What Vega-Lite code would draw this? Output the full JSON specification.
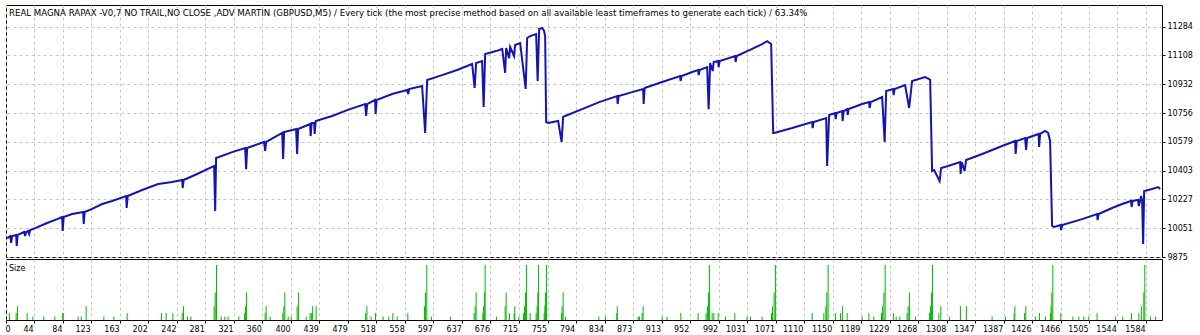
{
  "$schema": "https://vega.github.io/schema/vega-lite/v6.json",
  "background": "white",
  "padding": {"left": 4, "top": 4, "right": 0, "bottom": 0},
  "autosize": {"type": "pad"},
  "spacing": 2,
  "bounds": "flush",
  "config": {
    "font": "DejaVu Sans",
    "view": {"stroke": "#000000", "strokeWidth": 1},
    "axis": {"labelFont": "DejaVu Sans", "labelFontSize": 8, "labelColor": "#000000", "gridColor": "#c8c8c8", "gridDash": [3, 3], "gridWidth": 1, "domain": false, "tickColor": "#000000", "tickSize": 3, "labelFlush": false, "labelOverlap": false, "labelBound": false, "title": null},
    "title": {"font": "DejaVu Sans", "fontSize": 8, "fontWeight": "normal", "color": "#000000", "anchor": "start", "frame": "group"}
  },
  "datasets": {
    "eq": [
      {"t":6.6,"v":9991},{"t":10.8,"v":10003},{"t":12.1,"v":9961},{"t":13.5,"v":10003},{"t":19.1,"v":10010},{"t":19.8,"v":9942},{"t":21.1,"v":10010},{"t":30.1,"v":10028},{"t":31.5,"v":10003},{"t":32.9,"v":10028},{"t":35.7,"v":10034},{"t":37.1,"v":10016},{"t":38.5,"v":10040},{"t":45.4,"v":10052},{"t":62.0,"v":10083},{"t":75.8,"v":10107},{"t":82.8,"v":10120},{"t":83.5,"v":10034},{"t":84.9,"v":10120},{"t":96.6,"v":10138},{"t":111.9,"v":10150},{"t":112.6,"v":10077},{"t":113.9,"v":10150},{"t":124.3,"v":10169},{"t":138.2,"v":10199},{"t":152.0,"v":10218},{"t":171.4,"v":10248},{"t":172.1,"v":10175},{"t":173.5,"v":10248},{"t":193.6,"v":10285},{"t":215.7,"v":10322},{"t":235.1,"v":10334},{"t":249.0,"v":10346},{"t":249.7,"v":10297},{"t":251.0,"v":10346},{"t":269.7,"v":10383},{"t":290.5,"v":10426},{"t":293.3,"v":10432},{"t":294.7,"v":10156},{"t":296.0,"v":10481},
      {"t":318.2,"v":10517},{"t":336.2,"v":10542},{"t":337.6,"v":10413},{"t":339.0,"v":10542},{"t":362.5,"v":10579},{"t":363.9,"v":10524},{"t":365.3,"v":10579},{"t":387.5,"v":10634},{"t":388.8,"v":10475},{"t":390.2,"v":10640},{"t":406.8,"v":10658},{"t":408.2,"v":10505},{"t":409.6,"v":10658},{"t":426.2,"v":10689},{"t":426.9,"v":10615},{"t":428.3,"v":10695},{"t":431.8,"v":10695},{"t":432.5,"v":10628},{"t":433.9,"v":10707},{"t":456.7,"v":10738},{"t":477.5,"v":10774},{"t":502.4,"v":10811},{"t":503.8,"v":10738},{"t":505.2,"v":10811},{"t":516.2,"v":10836},{"t":516.9,"v":10750},{"t":518.3,"v":10836},{"t":539.8,"v":10872},{"t":560.6,"v":10897},{"t":562.0,"v":10872},{"t":563.3,"v":10903},{"t":581.3,"v":10921},{"t":585.5,"v":10634},{"t":588.3,"v":10958},{"t":609.0,"v":10988},{"t":629.8,"v":11019},{"t":650.6,"v":11056},{"t":654.0,"v":10909},{"t":656.1,"v":11062},{"t":664.4,"v":11074},{"t":666.5,"v":10793},{"t":668.6,"v":11117},{"t":683.8,"v":11135},{"t":692.2,"v":11148},{"t":696.3,"v":11001},{"t":697.7,"v":11154},{"t":701.8,"v":11092},{"t":703.2,"v":11160},{"t":708.7,"v":11105},{"t":710.1,"v":11172},{"t":717.1,"v":11184},{"t":724.7,"v":10903},{"t":726.8,"v":11215},{"t":730.9,"v":11227},{"t":739.2,"v":11239},{"t":741.3,"v":10952},{"t":743.4,"v":11270},{"t":747.5,"v":11276},{"t":750.3,"v":11258},{"t":751.7,"v":11221},{"t":753.1,"v":10701},
      {"t":755.8,"v":10695},{"t":769.7,"v":10707},{"t":774.5,"v":10579},{"t":776.6,"v":10732},{"t":779.4,"v":10738},{"t":802.9,"v":10780},{"t":826.5,"v":10823},{"t":851.4,"v":10860},{"t":852.1,"v":10811},{"t":853.5,"v":10860},{"t":872.2,"v":10884},{"t":887.4,"v":10903},{"t":888.1,"v":10811},{"t":889.5,"v":10909},{"t":913.7,"v":10946},{"t":938.6,"v":10982},{"t":939.3,"v":10952},{"t":940.7,"v":10982},{"t":955.3,"v":11007},{"t":963.6,"v":11019},{"t":964.3,"v":10988},{"t":965.7,"v":11019},{"t":976.1,"v":11037},{"t":978.1,"v":10780},{"t":980.2,"v":11062},{"t":983.7,"v":11013},{"t":985.1,"v":11068},{"t":991.3,"v":11074},{"t":992.0,"v":11037},{"t":993.4,"v":11074},{"t":1014.8,"v":11105},{"t":1015.5,"v":11068},{"t":1016.9,"v":11105},{"t":1038.4,"v":11148},{"t":1052.2,"v":11178},{"t":1059.1,"v":11196},{"t":1064.7,"v":11178},{"t":1067.5,"v":10634},
      {"t":1068.8,"v":10634},{"t":1093.8,"v":10664},{"t":1121.5,"v":10701},{"t":1122.1,"v":10664},{"t":1123.5,"v":10701},{"t":1140.9,"v":10725},{"t":1142.2,"v":10432},{"t":1145.0,"v":10744},{"t":1153.3,"v":10756},{"t":1154.0,"v":10719},{"t":1155.4,"v":10756},{"t":1163.0,"v":10768},{"t":1163.7,"v":10707},{"t":1165.1,"v":10768},{"t":1170.0,"v":10780},{"t":1170.6,"v":10744},{"t":1172.0,"v":10780},{"t":1190.7,"v":10811},{"t":1200.4,"v":10823},{"t":1201.1,"v":10787},{"t":1202.5,"v":10823},{"t":1218.4,"v":10854},{"t":1221.9,"v":10579},{"t":1224.0,"v":10891},{"t":1233.6,"v":10903},{"t":1234.3,"v":10866},{"t":1235.7,"v":10903},{"t":1250.2,"v":10927},{"t":1255.8,"v":10787},{"t":1259.9,"v":10952},{"t":1278.0,"v":10976},{"t":1283.5,"v":10964},{"t":1284.9,"v":10958},{"t":1287.6,"v":10401},
      {"t":1290.4,"v":10407},{"t":1298.0,"v":10340},{"t":1300.1,"v":10420},{"t":1309.8,"v":10432},{"t":1326.4,"v":10456},{"t":1327.1,"v":10383},{"t":1328.5,"v":10456},{"t":1332.6,"v":10401},{"t":1334.7,"v":10468},{"t":1356.9,"v":10505},{"t":1384.6,"v":10554},{"t":1402.6,"v":10585},{"t":1403.3,"v":10505},{"t":1404.7,"v":10585},{"t":1416.4,"v":10603},{"t":1417.8,"v":10530},{"t":1419.2,"v":10603},{"t":1435.1,"v":10628},{"t":1435.8,"v":10548},{"t":1437.2,"v":10628},{"t":1444.1,"v":10646},{"t":1448.3,"v":10634},{"t":1451.0,"v":10585},{"t":1453.8,"v":10065},
      {"t":1456.6,"v":10059},{"t":1465.6,"v":10071},{"t":1466.3,"v":10040},{"t":1467.7,"v":10071},{"t":1495.4,"v":10107},{"t":1516.1,"v":10138},{"t":1516.8,"v":10101},{"t":1518.2,"v":10138},{"t":1536.9,"v":10175},{"t":1550.8,"v":10199},{"t":1563.2,"v":10218},{"t":1563.9,"v":10181},{"t":1565.3,"v":10218},{"t":1572.9,"v":10224},{"t":1573.9,"v":10187},{"t":1577.1,"v":10248},{"t":1578.5,"v":10218},{"t":1579.9,"v":9955},{"t":1581.3,"v":10279},{"t":1592.3,"v":10291},{"t":1600.6,"v":10303},{"t":1603.4,"v":10291}
    ],
    "sz": [
      {"t":9.8,"s":1},{"t":19.1,"s":1},{"t":20.9,"s":2},{"t":34.3,"s":1},{"t":42.2,"s":0.5},{"t":57.4,"s":0.5},{"t":72.7,"s":0.5},{"t":83.5,"s":1},{"t":84.2,"s":1},{"t":104.9,"s":0.5},{"t":109.1,"s":0.5},{"t":116.0,"s":2},{"t":140.5,"s":0.5},{"t":154.4,"s":0.5},{"t":172.8,"s":1},{"t":220.3,"s":1},{"t":226.8,"s":1},{"t":236.1,"s":1},{"t":249.0,"s":1},{"t":250.8,"s":2},{"t":256.3,"s":0.5},{"t":261.0,"s":0.5},{"t":293.3,"s":2},{"t":294.7,"s":4},{"t":296.5,"s":8},{"t":303.0,"s":0.5},{"t":308.1,"s":0.5},{"t":312.7,"s":0.5},{"t":327.5,"s":0.5},{"t":335.5,"s":1},{"t":336.6,"s":2},{"t":338.0,"s":4},{"t":363.9,"s":1},{"t":365.3,"s":2},{"t":370.8,"s":0.5},{"t":388.4,"s":1},{"t":389.8,"s":2},{"t":391.2,"s":4},{"t":395.8,"s":0.5},{"t":400.0,"s":0.5},{"t":408.2,"s":2},{"t":410.0,"s":4},{"t":420.7,"s":0.5},{"t":426.2,"s":1},{"t":428.3,"s":1},{"t":429.7,"s":2},{"t":434.5,"s":2},{"t":503.1,"s":1},{"t":504.8,"s":2},{"t":510.7,"s":0.5},{"t":516.7,"s":1},{"t":527.3,"s":0.5},{"t":535.2,"s":0.5},{"t":540.8,"s":1},{"t":546.7,"s":0.5},
      {"t":561.5,"s":1},{"t":584.5,"s":2},{"t":585.9,"s":4},{"t":587.8,"s":8},{"t":594.2,"s":0.5},{"t":620.5,"s":0.5},{"t":653.3,"s":1},{"t":654.7,"s":2},{"t":656.1,"s":4},{"t":665.4,"s":1},{"t":666.5,"s":2},{"t":667.5,"s":4},{"t":668.6,"s":8},{"t":684.2,"s":0.5},{"t":696.3,"s":2},{"t":697.7,"s":4},{"t":702.3,"s":1},{"t":708.8,"s":1},{"t":709.7,"s":2},{"t":715.3,"s":0.5},{"t":721.6,"s":1},{"t":723.0,"s":2},{"t":724.4,"s":4},{"t":725.8,"s":8},{"t":730.9,"s":1},{"t":739.2,"s":1},{"t":740.6,"s":2},{"t":741.6,"s":4},{"t":742.4,"s":8},{"t":750.3,"s":1},{"t":751.3,"s":2},{"t":752.1,"s":4},{"t":753.5,"s":8},{"t":774.3,"s":1},{"t":775.2,"s":2},{"t":776.6,"s":4},{"t":779.8,"s":0.5},{"t":826.1,"s":0.5},{"t":835.2,"s":0.5},{"t":850.9,"s":1},{"t":851.6,"s":2},{"t":880.5,"s":0.5},{"t":882.3,"s":0.5},{"t":886.0,"s":1},{"t":887.4,"s":2},{"t":913.7,"s":0.5},{"t":920.6,"s":0.5},{"t":939.6,"s":1},{"t":963.6,"s":1},{"t":974.6,"s":1},{"t":976.4,"s":2},{"t":977.8,"s":4},{"t":979.2,"s":8},{"t":983.0,"s":1},{"t":985.3,"s":1},{"t":991.3,"s":1},{"t":1001.4,"s":0.5},{"t":1014.4,"s":1},{"t":1031.4,"s":0.5},{"t":1036.0,"s":0.5},{"t":1052.2,"s":0.5},{"t":1065.1,"s":1},{"t":1066.5,"s":2},{"t":1068.8,"s":4},{"t":1070.6,"s":8},
      {"t":1121.5,"s":1},{"t":1137.7,"s":1},{"t":1140.4,"s":2},{"t":1141.8,"s":4},{"t":1143.6,"s":8},{"t":1153.7,"s":1},{"t":1160.7,"s":1},{"t":1163.4,"s":2},{"t":1169.9,"s":1},{"t":1190.7,"s":0.5},{"t":1200.0,"s":1},{"t":1206.9,"s":0.5},{"t":1217.5,"s":1},{"t":1218.8,"s":2},{"t":1220.8,"s":4},{"t":1222.6,"s":8},{"t":1234.0,"s":1},{"t":1237.8,"s":0.5},{"t":1242.9,"s":0.5},{"t":1253.0,"s":1},{"t":1254.4,"s":2},{"t":1256.2,"s":4},{"t":1264.5,"s":0.5},{"t":1283.9,"s":1},{"t":1285.3,"s":2},{"t":1286.7,"s":4},{"t":1288.1,"s":8},{"t":1296.9,"s":1},{"t":1299.7,"s":2},{"t":1311.6,"s":0.5},{"t":1326.8,"s":2},{"t":1335.1,"s":2},{"t":1370.7,"s":0.5},{"t":1389.2,"s":0.5},{"t":1401.2,"s":1},{"t":1402.2,"s":2},{"t":1415.5,"s":1},{"t":1417.4,"s":2},{"t":1430.7,"s":0.5},{"t":1436.3,"s":1},{"t":1444.6,"s":0.5},{"t":1451.5,"s":1},{"t":1452.4,"s":2},{"t":1453.4,"s":4},{"t":1454.8,"s":8},{"t":1465.9,"s":1},{"t":1482.5,"s":0.5},{"t":1490.8,"s":0.5},{"t":1497.7,"s":0.5},{"t":1504.6,"s":0.5},{"t":1516.1,"s":1},{"t":1541.5,"s":0.5},{"t":1551.7,"s":0.5},{"t":1563.6,"s":1},{"t":1573.9,"s":1},{"t":1577.5,"s":2},{"t":1580.8,"s":4},{"t":1582.2,"s":8},{"t":1590.0,"s":0.5},{"t":1596.9,"s":0.5}
    ]
  },
  "vconcat": [
    {
      "width": 1156,
      "height": 252,
      "title": {"text": "REAL MAGNA RAPAX -V0,7 NO TRAIL,NO CLOSE ,ADV MARTIN (GBPUSD,M5) / Every tick (the most precise method based on all available least timeframes to generate each tick) / 63.34%", "orient": "top", "offset": -20, "dx": 3, "baseline": "alphabetic", "fontSize": 8.6},
      "data": {"name": "eq"},
      "mark": {"type": "line", "color": "#1414B0", "strokeWidth": 2, "clip": true},
      "encoding": {
        "x": {"field": "t", "type": "quantitative", "scale": {"domain": [5, 1606], "nice": false, "zero": false},
          "axis": {"values": [5,44,84,123,163,202,242,281,321,360,400,439,479,518,558,597,637,676,715,755,794,834,873,913,952,992,1031,1071,1110,1150,1189,1229,1268,1308,1347,1387,1426,1466,1505,1544,1584], "labels": false, "ticks": false, "grid": true}},
        "y": {"field": "v", "type": "quantitative", "scale": {"domain": [9875, 11417], "nice": false, "zero": false},
          "axis": {"orient": "right", "values": [9875,10051,10227,10403,10579,10756,10932,11108,11284], "format": "d", "grid": true, "ticks": true, "labelPadding": 2}}
      }
    },
    {
      "width": 1156,
      "height": 61,
      "title": {"text": "Size", "orient": "top", "offset": -20, "dx": 3, "baseline": "alphabetic"},
      "data": {"name": "sz"},
      "mark": {"type": "rule", "color": "#00B800", "strokeWidth": 1, "clip": true},
      "encoding": {
        "x": {"field": "t", "type": "quantitative", "scale": {"domain": [5, 1606], "nice": false, "zero": false},
          "axis": {"values": [5,44,84,123,163,202,242,281,321,360,400,439,479,518,558,597,637,676,715,755,794,834,873,913,952,992,1031,1071,1110,1150,1189,1229,1268,1308,1347,1387,1426,1466,1505,1544,1584], "format": "d", "grid": true, "ticks": true, "labelPadding": 2, "labelOffset": -1,
            "labelExpr": "datum.value == 5 ? '0' : datum.label",
            "labelAlign": {"condition": {"test": "datum.value == 5", "value": "left"}, "value": "right"}}},
        "y": {"field": "s", "type": "quantitative", "scale": {"domain": [0, 8.87], "nice": false}, "axis": null},
        "y2": {"datum": 0}
      }
    }
  ]
}
